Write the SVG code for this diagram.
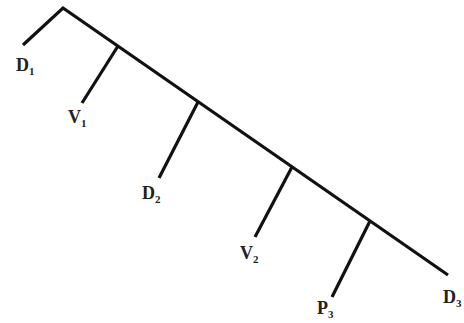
<svg xmlns="http://www.w3.org/2000/svg" width="464" height="323" viewBox="0 0 464 323">
<style>
.ln{stroke:#111;stroke-width:3.2;fill:none;stroke-linecap:butt;stroke-linejoin:miter}
.lb{font-family:"Liberation Serif","Times New Roman",serif;font-weight:bold;font-size:18px;fill:#222}
.sb{font-size:11px}
</style>
<rect width="464" height="323" fill="#fff"/>
<g id="connectors">
<polyline class="ln" points="23,45 63,8 448,275"/>
<line class="ln" x1="118" y1="46" x2="82" y2="103"/>
<line class="ln" x1="198" y1="102" x2="159" y2="178"/>
<line class="ln" x1="292" y1="167" x2="255" y2="237"/>
<line class="ln" x1="370" y1="221" x2="332" y2="297"/>
</g>
<g id="D1"><text class="lb" x="16" y="71">D<tspan class="sb" dy="4">1</tspan></text></g>
<g id="V1"><text class="lb" x="68" y="123">V<tspan class="sb" dy="4">1</tspan></text></g>
<g id="D2"><text class="lb" x="142" y="199">D<tspan class="sb" dy="4">2</tspan></text></g>
<g id="V2"><text class="lb" x="240" y="259">V<tspan class="sb" dy="4">2</tspan></text></g>
<g id="P3"><text class="lb" x="317" y="314">P<tspan class="sb" dy="4">3</tspan></text></g>
<g id="D3"><text class="lb" x="443" y="303">D<tspan class="sb" dy="4">3</tspan></text></g>
</svg>
